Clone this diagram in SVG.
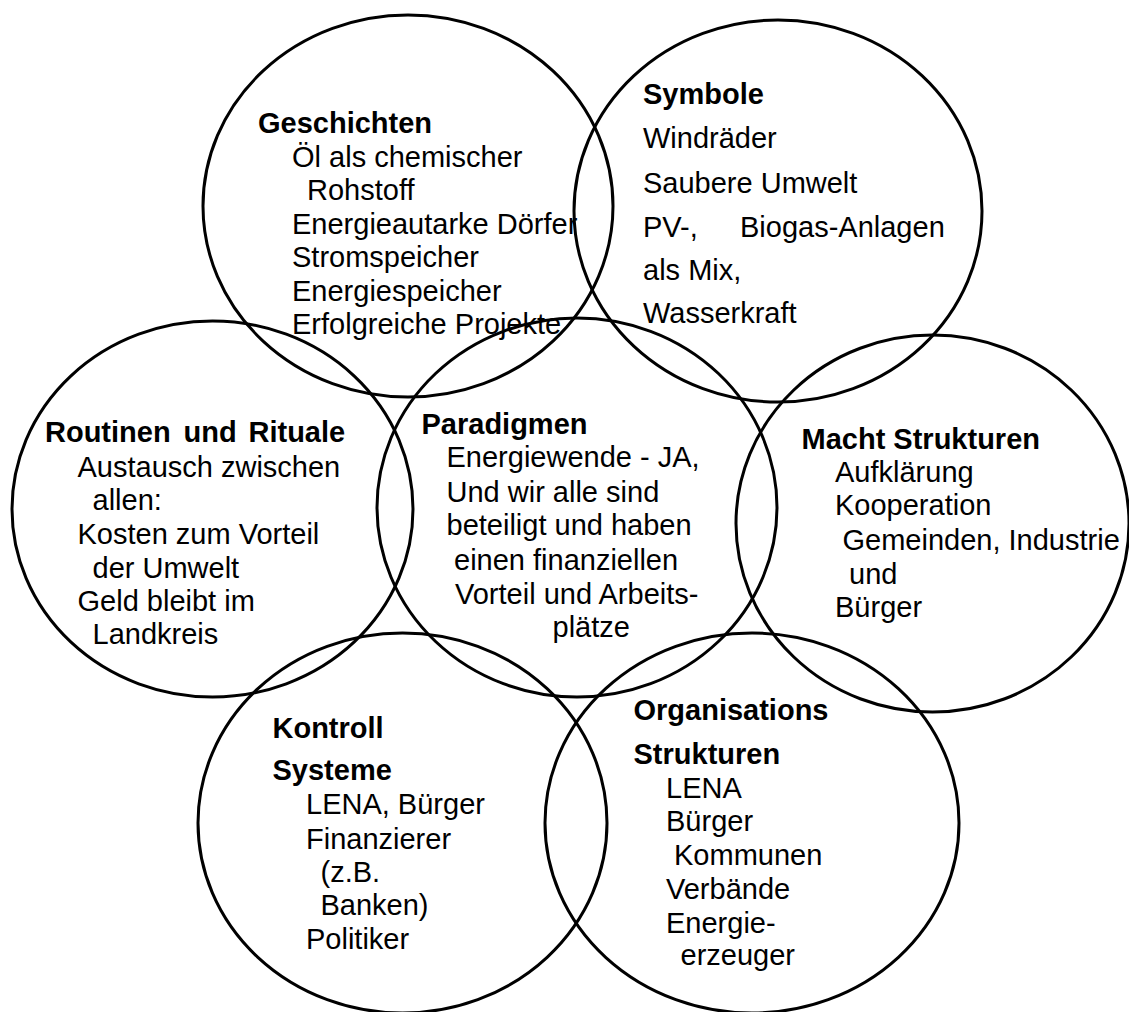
<svg xmlns="http://www.w3.org/2000/svg" width="1129" height="1012" viewBox="0 0 1129 1012">
<style>
.c{fill:none;stroke:#000;stroke-width:3}
.t{font-family:"Liberation Sans",Arial,sans-serif;font-size:29px;fill:#000}
.b{font-weight:bold}
</style>
<rect width="1129" height="1012" fill="#fff"/>
<g id="geschichten">
<ellipse class="c" cx="408" cy="206" rx="205" ry="191"/>
<text class="t b" x="258" y="133">Geschichten</text>
<text class="t" x="292" y="167">Öl als chemischer</text>
<text class="t" x="307" y="200">Rohstoff</text>
<text class="t" x="292" y="233.5">Energieautarke Dörfer</text>
<text class="t" x="292" y="267">Stromspeicher</text>
<text class="t" x="292" y="300.5">Energiespeicher</text>
<text class="t" x="292" y="334">Erfolgreiche Projekte</text>
</g>
<g id="symbole">
<ellipse class="c" cx="778" cy="211" rx="204" ry="191"/>
<text class="t b" x="643" y="104">Symbole</text>
<text class="t" x="643" y="148">Windräder</text>
<text class="t" x="643" y="192.5">Saubere Umwelt</text>
<text class="t" y="236.5"><tspan x="643">PV-,</tspan><tspan x="740">Biogas-Anlagen</tspan></text>
<text class="t" x="643" y="279.5">als Mix,</text>
<text class="t" x="643" y="323">Wasserkraft</text>
</g>
<g id="routinen">
<ellipse class="c" cx="212.5" cy="509" rx="200.5" ry="188"/>
<text class="t b" y="441.5"><tspan x="45">Routinen</tspan><tspan x="183.5">und</tspan><tspan x="248.5">Rituale</tspan></text>
<text class="t" x="77.5" y="476.5">Austausch zwischen</text>
<text class="t" x="92.5" y="510">allen:</text>
<text class="t" x="77.5" y="544">Kosten zum Vorteil</text>
<text class="t" x="92.5" y="577.5">der Umwelt</text>
<text class="t" x="77.5" y="611">Geld bleibt im</text>
<text class="t" x="92.5" y="644">Landkreis</text>
</g>
<g id="paradigmen">
<ellipse class="c" cx="577" cy="507.5" rx="200" ry="189.5"/>
<text class="t b" x="421.5" y="433.5">Paradigmen</text>
<text class="t" x="446.5" y="467">Energiewende - JA,</text>
<text class="t" x="446.5" y="501.5">Und wir alle sind</text>
<text class="t" x="446.5" y="535">beteiligt und haben</text>
<text class="t" x="454" y="569.5">einen finanziellen</text>
<text class="t" x="455" y="603.5">Vorteil und Arbeits-</text>
<text class="t" x="552.5" y="636.5">plätze</text>
</g>
<g id="macht">
<ellipse class="c" cx="932.5" cy="523.5" rx="196.5" ry="188.5"/>
<text class="t b" x="801.5" y="448.5">Macht Strukturen</text>
<text class="t" x="835" y="481.5">Aufklärung</text>
<text class="t" x="835" y="515">Kooperation</text>
<text class="t" x="842.5" y="550">Gemeinden, Industrie</text>
<text class="t" x="849" y="583.5">und</text>
<text class="t" x="835" y="616.5">Bürger</text>
</g>
<g id="kontroll">
<ellipse class="c" cx="402.5" cy="823" rx="204.5" ry="190"/>
<text class="t b" x="272.5" y="737.5">Kontroll</text>
<text class="t b" x="272.5" y="780">Systeme</text>
<text class="t" x="306" y="814">LENA, Bürger</text>
<text class="t" x="306" y="848.5">Finanzierer</text>
<text class="t" x="320.5" y="881.5">(z.B.</text>
<text class="t" x="320.5" y="915">Banken)</text>
<text class="t" x="306" y="948.5">Politiker</text>
</g>
<g id="organisations">
<ellipse class="c" cx="752" cy="823" rx="207" ry="190"/>
<text class="t b" x="633.5" y="720">Organisations</text>
<text class="t b" x="633.5" y="763.5">Strukturen</text>
<text class="t" x="666" y="797.5">LENA</text>
<text class="t" x="666" y="831">Bürger</text>
<text class="t" x="674" y="865">Kommunen</text>
<text class="t" x="666" y="898.5">Verbände</text>
<text class="t" x="666" y="932.5">Energie-</text>
<text class="t" x="680.5" y="965">erzeuger</text>
</g>
</svg>
